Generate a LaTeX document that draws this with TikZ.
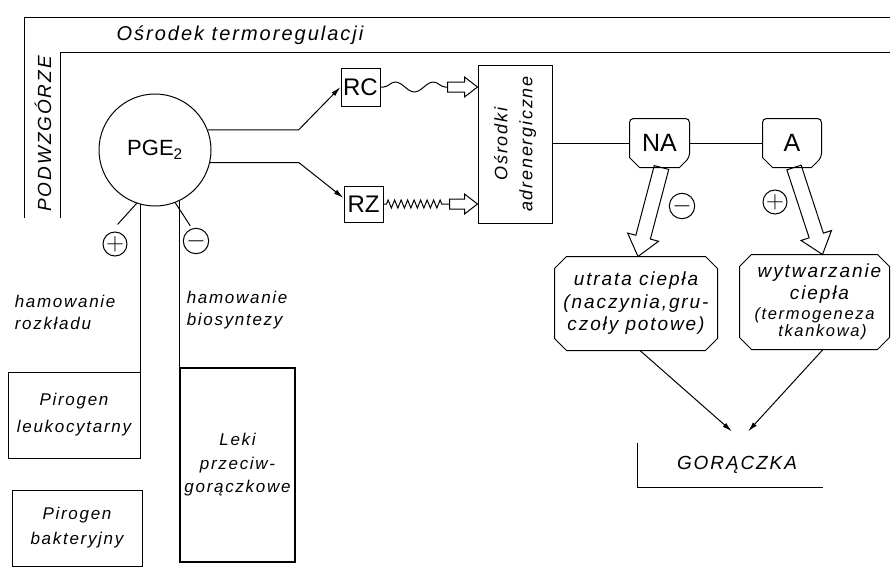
\documentclass[tikz,border=0pt]{standalone}
\usepackage{fontspec}
\setmainfont{Liberation Sans}
\newfontfamily\lett[LetterSpace=10]{Liberation Sans}
\usetikzlibrary{arrows.meta,calc,decorations.pathmorphing}

% outline with all four corners cut off, drawn round node #1, cut size #2
\newcommand\cutbox[2]{%
  \draw ([xshift=#2]#1.north west) -- ([xshift=-#2]#1.north east)
    -- ([yshift=-#2]#1.north east) -- ([yshift=#2]#1.south east)
    -- ([xshift=-#2]#1.south east) -- ([xshift=#2]#1.south west)
    -- ([yshift=#2]#1.south west) -- ([yshift=-#2]#1.north west) -- cycle;}
% outline with rounded top corners and cut bottom corners
\newcommand\tagbox[2]{%
  \draw[rounded corners=4pt] ([yshift=#2]#1.south west) -- (#1.north west)
    -- (#1.north east) -- ([yshift=#2]#1.south east)
    [sharp corners] -- ([xshift=-#2]#1.south east) -- ([xshift=#2]#1.south west) -- cycle;}
% hollow (outlined) arrow from #1 to #2: shaft half width #3, head half width #4, head length #5
\newcommand\hollowarrow[5]{%
  \path ($(#2)!#5!(#1)$) coordinate (hb);
  \draw[line join=miter] ($(#1)!#3!90:(#2)$) -- ($(hb)!#3!90:(#2)$)
    -- ($(hb)!#4!90:(#2)$) -- (#2) -- ($(hb)!#4!-90:(#2)$)
    -- ($(hb)!#3!-90:(#2)$) -- ($(#1)!#3!-90:(#2)$) -- cycle;}

\begin{document}
\begin{tikzpicture}[x=1pt,y=-1pt,line width=1pt,
  lab/.style={font=\lett\itshape\fontsize{19}{22.5}\selectfont},
  labs/.style={font=\lett\itshape\fontsize{17}{22}\selectfont},
  upr/.style={font=\fontsize{24}{24}\selectfont},
  sign/.style={circle,draw,minimum size=24pt,inner sep=0pt,font=\fontsize{25}{25}\selectfont},
  tip/.style={-{Latex[length=10pt,width=5pt]}}]
\useasboundingbox (0,0) rectangle (892,568);

% hypothalamus frame
\draw (24,218) -- (24,17) -- (890,17);
\draw (60,218) -- (60,52) -- (890,52);
\node[lab,font=\lett\itshape\fontsize{20}{20}\selectfont] (title) at (240,35) {Ośrodek termoregulacji};
\node[lab,rotate=90] (hyp) at (43,134) {PODWZGÓRZE};

% prostaglandin
\node[circle,draw,minimum size=112pt,inner sep=0pt,font=\fontsize{22}{22}\selectfont] (PGE) at (155,150) {PGE\textsubscript{2}};

% receptors
\node[draw,minimum width=39pt,minimum height=38pt,inner sep=0pt,upr] (RC) at (360.5,87) {RC};
\node[draw,minimum width=39pt,minimum height=36pt,inner sep=0pt,upr] (RZ) at (363.5,204) {RZ};
\draw[tip] (PGE.21) -- ++(91,0) -- (RC.west);
\draw[tip] (PGE.-13) -- ++(89,0) -- ([yshift=6pt]RZ.west);

% adrenergic centres
\node[draw,minimum width=74pt,minimum height=158pt,
  label={[rotate=90,align=center,lab,font=\lett\itshape\fontsize{18}{25}\selectfont]center:Ośrodki\\adrenergiczne}] (O) at (515,144) {};

\coordinate (rcTip) at (O.west |- RC.east);
\coordinate (rcTail) at ($(rcTip)+(-30,0)$);
\coordinate (rzTip) at (O.west |- RZ.east);
\coordinate (rzTail) at ($(rzTip)+(-28,0)$);
\draw[decorate,decoration={snake,segment length=38pt,amplitude=5pt,pre length=3pt,post length=2pt}] (RC.east) -- (rcTail);
\draw[decorate,decoration={zigzag,segment length=6.5pt,amplitude=4pt,pre length=3pt,post length=5pt}] (RZ.east) -- (rzTail);
\hollowarrow{rcTail}{rcTip}{5pt}{10pt}{13pt}
\hollowarrow{rzTail}{rzTip}{5pt}{10pt}{13pt}

% noradrenaline and adrenaline
\node[minimum width=59pt,minimum height=48pt,inner sep=0pt,font=\fontsize{25}{25}\selectfont] (NA) at (659.5,143) {NA};
\node[minimum width=58pt,minimum height=48pt,inner sep=0pt,font=\fontsize{25}{25}\selectfont] (A) at (792,143) {A};
\tagbox{NA}{10pt}
\tagbox{A}{10pt}
\draw (O.east |- NA.west) -- (NA.west);
\draw (NA.east) -- (A.west);

% heat loss / heat production
\node[lab,minimum width=162pt,minimum height=93pt,align=center] (U) at (636,303.5)
  {utrata ciepła\\(naczynia,gru-\\czoły potowe)};
\cutbox{U}{12pt}
\node[lab,minimum width=149pt,minimum height=94pt,align=center] (W) at (814.5,302)
  {\hspace*{10pt}wytwarzanie\\\hspace*{10pt}ciepła\\[-3pt]\fontsize{16.5}{16}\selectfont(termogeneza\\[-5pt]\fontsize{16.5}{16}\selectfont\hspace*{16pt}tkankowa)};
\cutbox{W}{12pt}

\coordinate (naOut) at ([xshift=2pt]NA.south);
\coordinate (uIn) at ([xshift=2pt]U.north);
\coordinate (aOut) at ([xshift=2pt]A.south);
\coordinate (wIn) at ([xshift=8pt]W.north);
\hollowarrow{naOut}{uIn}{7.5pt}{16pt}{20pt}
\hollowarrow{aOut}{wIn}{7.5pt}{16pt}{20pt}
\node[sign] (minusNA) at (682,206) {$-$};
\node[sign] (plusA) at (775,202) {$+$};

% fever
\node[lab,minimum width=184pt,minimum height=44pt] (G) at (730,465) {\hspace*{14pt}GORĄCZKA};
\draw (G.north west) -- (G.south west) -- (G.south east);
\coordinate (g1) at ([xshift=2pt,yshift=11pt]G.north);
\coordinate (g2) at ([xshift=18pt,yshift=11pt]G.north);
\draw[tip] ([xshift=4pt]U.south) -- (g1);
\draw[tip] ([xshift=8.5pt]W.south) -- (g2);

% pyrogens and antipyretics
\node[labs,draw,minimum width=132pt,minimum height=86pt,align=center,font=\lett\itshape\fontsize{17}{27}\selectfont] (PL) at (74,415) {Pirogen\\leukocytarny};
\node[labs,draw,minimum width=130pt,minimum height=76pt,align=center,font=\lett\itshape\fontsize{17}{25}\selectfont] (PB) at (77,528) {Pirogen\\bakteryjny};
\node[labs,draw,line width=2pt,minimum width=115pt,minimum height=194pt,align=center,font=\lett\itshape\fontsize{17}{23.5}\selectfont] (LK) at (237.5,465) {Leki\\przeciw-\\gorączkowe};
\draw (PL.north east) -- (PL.north east |- PGE.254.5);
\draw (LK.north west) -- (LK.north west |- PGE.296.5);

\draw (PGE.251) -- ++(-19,21);
\draw (PGE.291) -- ++(15,23);
\node[sign] (plusP) at (115,244) {$+$};
\node[sign] (minusP) at (196,241) {$-$};

\node[labs,align=left,anchor=west] (hr) at (11,312) {hamowanie\\rozkładu};
\node[labs,align=left,anchor=west] (hb2) at (183,310) {hamowanie\\biosyntezy};
\end{tikzpicture}
\end{document}
